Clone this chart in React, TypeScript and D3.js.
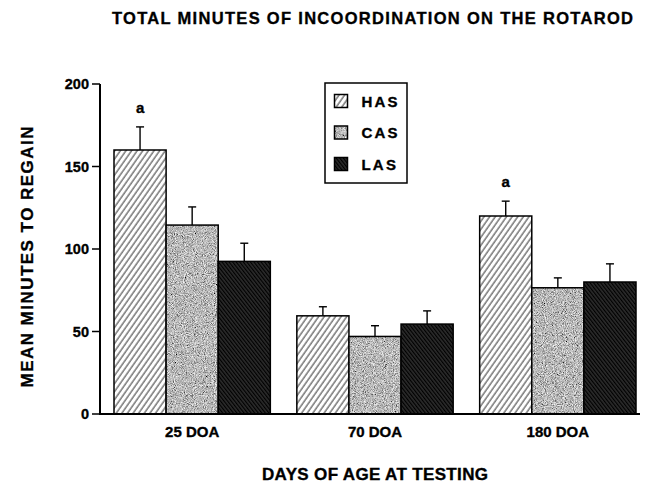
import * as d3 from 'd3';

const categories = ['25 DOA', '70 DOA', '180 DOA'];
const seriesNames = ['HAS', 'CAS', 'LAS'];
const hasValues = [160, 59.5, 120];
const casValues = [114.5, 47, 76.5];
const lasValues = [92.5, 54.5, 80];
const hasErrors = [14, 5.5, 9];
const casErrors = [11, 6.5, 6];
const lasErrors = [11, 8, 11];
const hasMarks = ['a', '', 'a'];
const yTicks = [0, 50, 100, 150, 200];

const W = 660;
const H = 489;
const FONT = '"Liberation Sans", Arial, Helvetica, sans-serif';

const fills: Record<string, string> = {
  HAS: 'url(#hatch-has)',
  CAS: '#999',
  LAS: 'url(#hatch-las)',
};

// heavier print look for the labels
const ink = { fill: '#000', stroke: '#000', strokeWidth: 0.35, fontWeight: 'bold' as const };

function Swatch({ x, y, w, h, s }: { x: number; y: number; w: number; h: number; s: string }) {
  return (
    <g>
      <rect x={x} y={y} width={w} height={h} fill={fills[s]} filter={s === 'CAS' ? 'url(#grain)' : undefined} />
      <rect x={x} y={y} width={w} height={h} fill="none" stroke="#000" strokeWidth={1.5} />
    </g>
  );
}

export default function App() {
  const yScale = d3.scaleLinear().domain([0, 200]).range([414, 84]);
  const xScale = d3.scaleBand<string>()
    .domain(categories)
    .range([114, 636])
    .paddingInner(0.145)
    .paddingOuter(0);
  const xSub = d3.scaleBand<string>()
    .domain(seriesNames)
    .range([0, xScale.bandwidth()])
    .padding(0);

  const values: Record<string, number[]> = { HAS: hasValues, CAS: casValues, LAS: lasValues };
  const errors: Record<string, number[]> = { HAS: hasErrors, CAS: casErrors, LAS: lasErrors };

  const bars = categories.flatMap((cat, ci) =>
    seriesNames.map((s) => ({
      cat,
      ci,
      s,
      v: values[s][ci],
      e: errors[s][ci],
    }))
  );

  return (
    <svg
      width={W}
      height={H}
      style={{ position: 'absolute', left: 0, top: 0, background: '#fff' }}
      fontFamily={FONT}
    >
      <defs>
        <pattern id="hatch-has" patternUnits="userSpaceOnUse" width="4.6" height="10" patternTransform="rotate(35)">
          <rect width="4.6" height="10" fill="#fff" />
          <line x1="1" y1="0" x2="1" y2="10" stroke="#111" strokeWidth="0.9" />
        </pattern>
        <pattern id="hatch-las" patternUnits="userSpaceOnUse" width="2.8" height="10" patternTransform="rotate(-38)">
          <rect width="2.8" height="10" fill="#000" />
          <line x1="1" y1="0" x2="1" y2="10" stroke="#5e5e5e" strokeWidth="0.8" />
        </pattern>
        <filter id="grain" x="0" y="0" width="1" height="1" filterUnits="objectBoundingBox">
          <feTurbulence type="fractalNoise" baseFrequency="1.1" numOctaves="2" seed="4" result="noise" />
          <feColorMatrix
            in="noise"
            type="matrix"
            values="0 0 0 1.4 -0.22  0 0 0 1.4 -0.22  0 0 0 1.4 -0.22  0 0 0 0 1"
            result="grey"
          />
          <feComposite in="grey" in2="SourceGraphic" operator="in" />
        </filter>
      </defs>

      {/* title */}
      <text x={372.5} y={24} textAnchor="middle" fontSize={16.5} {...ink} textLength={521} lengthAdjust="spacing">
        TOTAL MINUTES OF INCOORDINATION ON THE ROTAROD
      </text>

      {/* y axis title */}
      <text
        transform="translate(33,257) rotate(-90)"
        textAnchor="middle"
        fontSize={17}
        {...ink}
        textLength={261}
        lengthAdjust="spacing"
      >
        MEAN MINUTES TO REGAIN
      </text>

      {/* bars */}
      {bars.map((b) => {
        const x = (xScale(b.cat) || 0) + (xSub(b.s) || 0);
        const y = yScale(b.v);
        const w = xSub.bandwidth();
        const cx = x + w / 2;
        const yErr = yScale(b.v + b.e);
        return (
          <g key={`${b.cat}-${b.s}`}>
            <line x1={cx} x2={cx} y1={y} y2={yErr} stroke="#000" strokeWidth={1.4} />
            <line x1={cx - 4} x2={cx + 4} y1={yErr} y2={yErr} stroke="#000" strokeWidth={1.4} />
            <Swatch x={x} y={y} w={w} h={yScale(0) - y} s={b.s} />
            {b.s === 'HAS' && hasMarks[b.ci] && (
              <text x={cx} y={yErr - 14} textAnchor="middle" fontSize={15} {...ink}>
                {hasMarks[b.ci]}
              </text>
            )}
          </g>
        );
      })}

      {/* axes */}
      <line x1={100} x2={100} y1={yScale(200)} y2={yScale(0)} stroke="#000" strokeWidth={2} />
      <line x1={99} x2={640} y1={yScale(0)} y2={yScale(0)} stroke="#000" strokeWidth={2.2} />
      {yTicks.map((t) => (
        <g key={t}>
          <line x1={92} x2={100} y1={yScale(t)} y2={yScale(t)} stroke="#000" strokeWidth={1.5} />
          <text x={89} y={yScale(t) + 5} textAnchor="end" fontSize={14.5} {...ink}>
            {t}
          </text>
        </g>
      ))}
      {categories.map((c) => (
        <text key={c} x={(xScale(c) || 0) + xScale.bandwidth() / 2} y={437} textAnchor="middle" fontSize={15} {...ink}>
          {c}
        </text>
      ))}

      {/* x axis title */}
      <text x={375} y={480} textAnchor="middle" fontSize={17} {...ink} textLength={226} lengthAdjust="spacing">
        DAYS OF AGE AT TESTING
      </text>

      {/* legend */}
      <rect x={325} y={83} width={82} height={100} fill="#fff" stroke="#000" strokeWidth={1.5} />
      {seriesNames.map((s, i) => {
        const cy = 101 + i * 31.5;
        return (
          <g key={s}>
            <Swatch x={334.5} y={cy - 6.5} w={13} h={13} s={s} />
            <text x={361.5} y={cy + 5.5} fontSize={15} {...ink} letterSpacing={2.2}>
              {s}
            </text>
          </g>
        );
      })}
    </svg>
  );
}
